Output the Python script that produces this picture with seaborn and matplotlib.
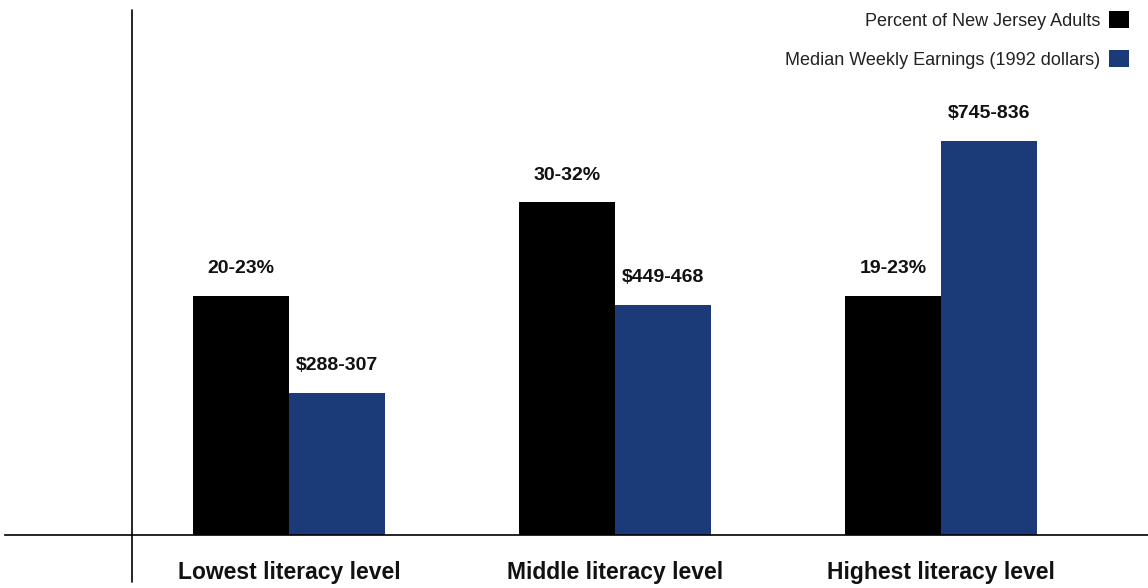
import matplotlib
matplotlib.use("Agg")
import matplotlib.pyplot as plt
import seaborn as sns
import pandas as pd

# ---- data ----
categories = ["Lowest literacy level", "Middle literacy level", "Highest literacy level"]
series = ["Percent of New Jersey Adults", "Median Weekly Earnings (1992 dollars)"]
pct_heights = [23, 32, 23]            # bar heights (upper bound of percent range)
earn_heights = [13.65, 22.1, 37.9]    # bar heights on the same vertical scale
pct_labels = ["20-23%", "30-32%", "19-23%"]
earn_labels = ["$288-307", "$449-468", "$745-836"]

df = pd.DataFrame({
    "category": categories * 2,
    "series": [series[0]] * 3 + [series[1]] * 3,
    "value": pct_heights + earn_heights,
})

sns.set_theme(style="white")
plt.rcParams["font.family"] = ["Liberation Sans", "DejaVu Sans"]

W, H = 1148, 588
fig = plt.figure(figsize=(W / 100, H / 100), dpi=100)
ax = fig.add_axes([5 / W, (H - 535) / H, (1148 - 5) / W, (535 - 10) / H])

palette = {series[0]: "#000000", series[1]: "#1b3a78"}
sns.barplot(data=df, x="category", y="value", hue="series", order=categories,
            hue_order=series, palette=palette, width=0.59, errorbar=None,
            saturation=1, linewidth=0, ax=ax)

ax.set_xlim(-0.871, 2.635)
ax.set_ylim(0, 50.5)

for cont, labs in zip(ax.containers, [pct_labels, earn_labels]):
    ax.bar_label(cont, labels=labs, padding=13.5, fontsize=14,
                 fontweight="bold", color="#111111")

# axes styling
for s in ["top", "right", "left"]:
    ax.spines[s].set_visible(False)
ax.spines["bottom"].set_color("black")
ax.spines["bottom"].set_linewidth(1.2)
ax.axvline(-0.4816, ymin=-(582 - 535) / 525, ymax=1.0, color="black",
           lw=1.2, clip_on=False)
ax.set_yticks([])
ax.set_xlabel("")
ax.set_ylabel("")
ax.tick_params(axis="x", length=0, pad=19)
for t in ax.get_xticklabels():
    t.set_fontsize(16.5)
    t.set_fontweight("bold")
    t.set_color("#111111")

# legend: text left, swatch right
leg = ax.legend(loc="upper right", bbox_to_anchor=(1129 / W, 1 - 11 / H),
                bbox_transform=fig.transFigure, frameon=False, markerfirst=False,
                fontsize=13, handlelength=1.107, handleheight=1.107,
                handletextpad=0.5, labelspacing=1.12, borderpad=0,
                borderaxespad=0, title=None)
for t in leg.get_texts():
    t.set_color("#222222")

fig.savefig("out.png", dpi=100)
